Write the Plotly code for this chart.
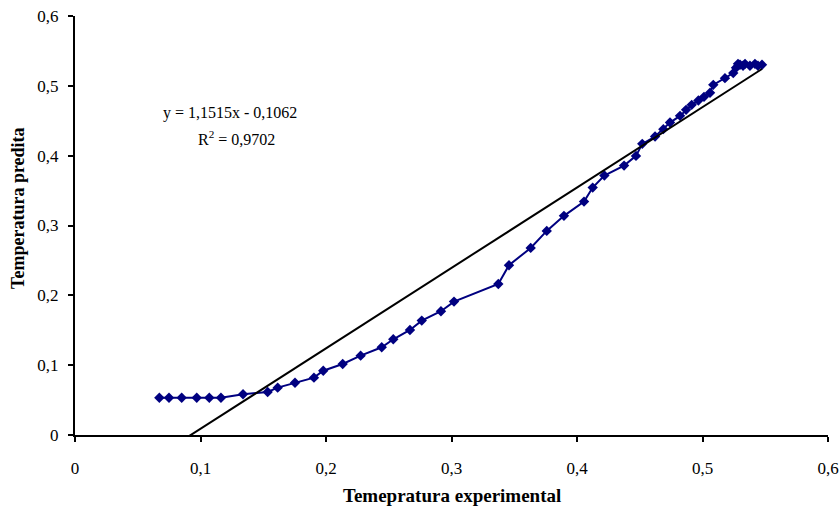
import plotly.graph_objects as go

x_exp = [0.0672, 0.0749, 0.0850, 0.0970, 0.1070, 0.1163, 0.1339, 0.1535, 0.1615, 0.1753,
         0.1904, 0.1978, 0.2133, 0.2276, 0.2444, 0.2536, 0.2669, 0.2763, 0.2916, 0.3020,
         0.3373, 0.3458, 0.3631, 0.3759, 0.3896, 0.4056, 0.4125, 0.4218, 0.4375, 0.4470,
         0.4520, 0.4622, 0.4688, 0.4741, 0.4821, 0.4869, 0.4914, 0.4967, 0.5012, 0.5060,
         0.5086, 0.5179, 0.5245, 0.5267, 0.5299, 0.5339, 0.5283, 0.5378, 0.5323, 0.5418,
         0.5442, 0.5474]
y_pred = [0.0534, 0.0534, 0.0534, 0.0534, 0.0534, 0.0534, 0.0583, 0.0616, 0.0678, 0.0749,
          0.0821, 0.0921, 0.1017, 0.1136, 0.1256, 0.1371, 0.1504, 0.1638, 0.1772, 0.1910,
          0.2163, 0.2431, 0.2679, 0.2923, 0.3138, 0.3342, 0.3543, 0.3715, 0.3858, 0.3997,
          0.4169, 0.4274, 0.4380, 0.4474, 0.4570, 0.4656, 0.4728, 0.4789, 0.4842, 0.4900,
          0.5014, 0.5110, 0.5182, 0.5258, 0.5301, 0.5315, 0.5315, 0.5287, 0.5287, 0.5315,
          0.5287, 0.5301]

slope = 1.1515
intercept = -0.1062
r2 = 0.9702

tick_vals = [0, 0.1, 0.2, 0.3, 0.4, 0.5, 0.6]
tick_text = ["0", "0,1", "0,2", "0,3", "0,4", "0,5", "0,6"]

x_trend = [min(x_exp), max(x_exp)]
y_trend = [slope * v + intercept for v in x_trend]

FONT = "Liberation Serif"
NAVY = "#000080"

fig = go.Figure()
fig.add_trace(go.Scatter(x=x_exp, y=y_pred, mode="lines+markers",
                         line=dict(color=NAVY, width=2),
                         marker=dict(symbol="diamond", size=8, color=NAVY),
                         showlegend=False))
fig.add_trace(go.Scatter(x=x_trend, y=y_trend, mode="lines",
                         line=dict(color="black", width=2),
                         showlegend=False))

axis_common = dict(range=[0, 0.6], tickvals=tick_vals, ticktext=tick_text,
                   showgrid=False, zeroline=False, showline=True, linecolor="black",
                   linewidth=2, ticks="outside", ticklen=5, tickcolor="black",
                   tickwidth=2, automargin=False,
                   tickfont=dict(family=FONT, size=17, color="black"))

fig.update_layout(
    width=840, height=509,
    margin=dict(l=75, r=12, t=16, b=74),
    plot_bgcolor="white", paper_bgcolor="white",
    xaxis=dict(**axis_common, ticklabelstandoff=12),
    yaxis=dict(**axis_common, ticklabelstandoff=6),
    annotations=[
        dict(x=0.1235, y=0.461, xref="x", yref="y", showarrow=False,
             text="y = 1,1515x - 0,1062", font=dict(family=FONT, size=16, color="black")),
        dict(x=0.1283, y=0.426, xref="x", yref="y", showarrow=False,
             text="R<sup>2</sup> = 0,9702", font=dict(family=FONT, size=16, color="black")),
        dict(x=0.5, y=-0.145, xref="paper", yref="paper", showarrow=False,
             yanchor="middle", text="<b>Temepratura experimental</b>",
             font=dict(family=FONT, size=19, color="black")),
        dict(x=-0.0757, y=0.542, xref="paper", yref="paper", showarrow=False,
             textangle=-90, xanchor="center", yanchor="middle",
             text="<b>Temperatura predita</b>",
             font=dict(family=FONT, size=18, color="black")),
    ],
)

fig.write_html("out.html")
